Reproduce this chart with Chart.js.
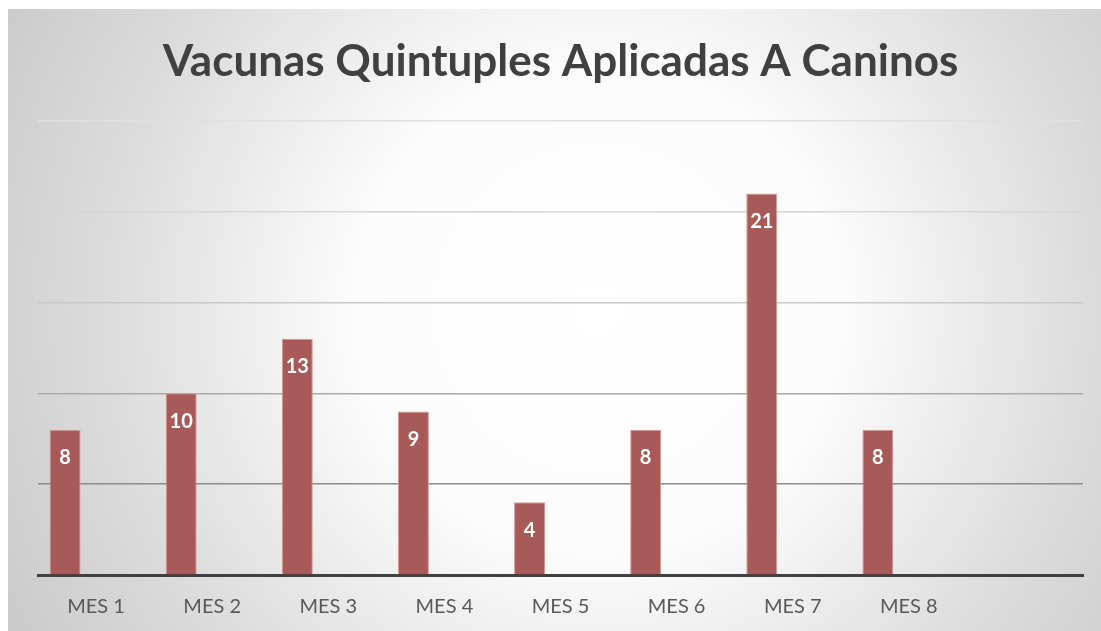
<!DOCTYPE html>
<html>
<head>
<meta charset="utf-8">
<script src="https://cdn.jsdelivr.net/npm/chart.js@4"></script>
<style>
  html, body { margin: 0; padding: 0; background: #ffffff; }
  .wrap { position: absolute; left: 8px; top: 9px; width: 1093px; height: 622px; }
</style>
</head>
<body>
<div class="wrap"><canvas id="chart"></canvas></div>
<script>
const months = ['MES 1', 'MES 2', 'MES 3', 'MES 4', 'MES 5', 'MES 6', 'MES 7', 'MES 8', '']
const vacunas = [8, 10, 13, 9, 4, 8, 21, 8, null]
const serie2 = [null, null, null, null, null, null, null, null, null]
const serie3 = [null, null, null, null, null, null, null, null, null]
const yTicks = [0, 5, 10, 15, 20, 25]

const gridColors = { 5: '#8c8c8c', 10: '#a9a9a9', 15: '#c8c8c8', 20: '#d6d6d6', 25: '#e0e0e0' }

// fondo con degradado radial
const bgPlugin = {
  id: 'bg',
  beforeDraw(chart) {
    const ctx = chart.ctx
    const w = chart.width, h = chart.height
    const g = ctx.createRadialGradient(590, 300, 0, 590, 300, 690)
    g.addColorStop(0, '#ffffff')
    g.addColorStop(0.35, '#fcfcfc')
    g.addColorStop(0.7, '#dddddd')
    g.addColorStop(1, '#c8c8c8')
    ctx.save()
    ctx.fillStyle = g
    ctx.fillRect(0, 0, w, h)
    ctx.restore()
  }
}

// etiquetas de valor dentro de la barra
const labelPlugin = {
  id: 'valueLabels',
  afterDatasetsDraw(chart) {
    const ctx = chart.ctx
    const meta = chart.getDatasetMeta(0)
    ctx.save()
    ctx.fillStyle = '#ffffff'
    ctx.font = 'bold 20px Lato'
    ctx.textAlign = 'center'
    ctx.textBaseline = 'middle'
    meta.data.forEach((bar, i) => {
      const v = vacunas[i]
      if (v === null) return
      ctx.fillText(String(v), bar.x, bar.y + 28)
    })
    ctx.restore()
  }
}

new Chart(document.getElementById('chart'), {
  type: 'bar',
  data: {
    labels: months,
    datasets: [
      { label: 'Serie 1', data: vacunas, backgroundColor: '#a85a58', borderColor: '#d39896', borderWidth: 1 },
      { label: 'Serie 2', data: serie2 },
      { label: 'Serie 3', data: serie3 }
    ]
  },
  options: {
    responsive: true,
    maintainAspectRatio: false,
    animation: false,
    categoryPercentage: 0.8,
    barPercentage: 1.0,
    layout: { padding: { left: 30, right: 18, top: 0, bottom: 0 } },
    plugins: {
      legend: { display: false },
      tooltip: { enabled: false },
      title: {
        display: true,
        text: 'Vacunas Quintuples Aplicadas A Caninos',
        color: '#404040',
        font: { family: 'Lato', size: 44, weight: 'bold' },
        padding: { top: 26, bottom: 33 }
      }
    },
    scales: {
      x: {
        grid: { display: false },
        border: { display: true, color: '#404040', width: 3 },
        ticks: { color: '#595959', font: { family: 'Lato', size: 20 }, padding: 12 }
      },
      y: {
        min: 0,
        max: 25,
        afterBuildTicks: axis => { axis.ticks = yTicks.map(v => ({ value: v })) },
        ticks: { display: false },
        border: { display: false },
        grid: {
          color: c => gridColors[c.tick.value] || 'rgba(0,0,0,0)',
          lineWidth: 1.5,
          drawTicks: false
        }
      }
    }
  },
  plugins: [bgPlugin, labelPlugin]
})
</script>
</body>
</html>
